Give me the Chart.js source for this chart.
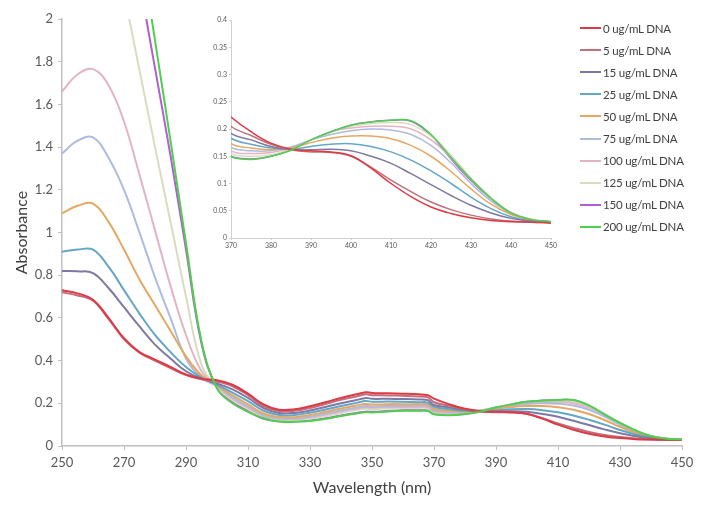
<!DOCTYPE html>
<html>
<head>
<meta charset="utf-8">
<script src="https://cdn.jsdelivr.net/npm/chart.js@4"></script>
<style>
  body { margin: 0; background: #fff; }
  #wrap { position: relative; width: 704px; height: 509px; }
  #mainChart { position: absolute; left: 0; top: 0; }
  #insetChart { position: absolute; left: 180px; top: 0; }
  #legend { position: absolute; left: 580px; top: 17px; font-family: Lato, sans-serif; font-size: 11.5px;
    letter-spacing: -0.2px; color: #404040; }
  .item { height: 22.1px; display: flex; align-items: center; white-space: nowrap; }
  .swatch { width: 21px; height: 2px; margin-right: 2px; }
</style>
</head>
<body>
<div id="wrap">
  <canvas id="mainChart" width="704" height="509"></canvas>
  <canvas id="insetChart" width="390" height="262"></canvas>
  <div id="legend"></div>
</div>
<script>
// wavelength grid (nm)
const wavelengths = [250,255,260,265,270,275,280,285,290,295,300,305,310,315,320,325,330,335,340,345,348,
  350,355,360,365,368,370,375,380,385,390,395,400,405,410,415,420,425,430,435,440,445,450];

const seriesNames = ["0 ug/mL DNA","5 ug/mL DNA","15 ug/mL DNA","25 ug/mL DNA","50 ug/mL DNA",
  "75 ug/mL DNA","100 ug/mL DNA","125 ug/mL DNA","150 ug/mL DNA","200 ug/mL DNA"];
const seriesColors = ["#dc3a44","#c0707c","#7e78a4","#63a7c6","#e5a862",
  "#aebbe0","#e4b4c2","#d8dcc0","#b45cd4","#4fcf4f"];

// absorbance readings
const dna0 = [.73,.715,.685,.60,.505,.44,.405,.37,.335,.315,.308,.287,.245,.195,.17,.172,.186,.205,.225,.242,.252,
  .248,.247,.245,.242,.238,.222,.195,.174,.163,.16,.158,.151,.128,.1,.076,.057,.045,.037,.032,.03,.029,.028];
const dna5 = [.72,.705,.68,.595,.50,.437,.40,.365,.332,.312,.302,.28,.238,.188,.164,.165,.178,.197,.216,.232,.242,
  .238,.237,.235,.232,.228,.205,.188,.172,.162,.158,.157,.15,.13,.106,.085,.066,.052,.042,.035,.031,.029,.028];
const dna15 = [.82,.818,.81,.74,.65,.56,.475,.41,.35,.315,.293,.265,.225,.178,.155,.155,.166,.183,.2,.215,.225,
  .221,.221,.22,.218,.215,.192,.18,.168,.162,.162,.163,.16,.15,.137,.118,.098,.078,.06,.046,.036,.031,.028];
const dna25 = [.91,.92,.92,.84,.73,.62,.52,.44,.37,.32,.287,.25,.21,.165,.145,.145,.156,.171,.187,.202,.211,
  .207,.208,.207,.205,.203,.183,.172,.165,.163,.168,.172,.173,.168,.158,.143,.123,.1,.075,.054,.039,.031,.028];
const dna50 = [1.09,1.125,1.135,1.05,.92,.78,.66,.54,.42,.33,.283,.237,.195,.152,.136,.135,.145,.16,.176,.19,.197,
  .194,.196,.196,.195,.194,.173,.165,.162,.165,.175,.183,.187,.187,.182,.17,.15,.122,.09,.062,.043,.032,.028];
const dna75 = [1.37,1.43,1.445,1.35,1.2,1.0,.79,.6,.41,.32,.28,.228,.185,.145,.13,.129,.137,.152,.167,.18,.187,
  .185,.187,.188,.188,.187,.166,.16,.16,.167,.18,.19,.197,.2,.198,.19,.17,.138,.1,.068,.045,.033,.028];
const dna100 = [1.66,1.74,1.765,1.69,1.52,1.27,1.01,.75,.52,.35,.278,.222,.18,.14,.126,.125,.133,.147,.162,.175,.181,
  .18,.182,.183,.183,.182,.16,.155,.157,.165,.18,.195,.202,.205,.205,.2,.18,.147,.107,.072,.047,.034,.028];
const dna125 = [2.6,2.65,2.6,2.45,2.12,1.76,1.4,1.05,.7,.38,.275,.215,.173,.135,.121,.12,.128,.14,.155,.168,.174,
  .173,.176,.178,.178,.177,.155,.15,.153,.163,.18,.195,.205,.21,.212,.208,.187,.152,.11,.074,.047,.034,.028];
const dna150 = [3.0,3.1,3.1,3.0,2.6,2.18,1.77,1.36,.92,.48,.272,.205,.165,.127,.116,.115,.12,.13,.143,.155,.161,
  .16,.164,.167,.167,.166,.15,.145,.15,.162,.18,.195,.207,.213,.216,.214,.188,.145,.105,.072,.046,.034,.03];
const dna200 = [3.2,3.3,3.3,3.2,2.85,2.37,1.9,1.43,.95,.49,.27,.2,.16,.13,.115,.113,.117,.127,.14,.152,.158,
  .157,.162,.165,.165,.164,.149,.144,.15,.161,.18,.195,.207,.213,.216,.215,.19,.148,.108,.073,.046,.034,.03];
const seriesValues = [dna0, dna5, dna15, dna25, dna50, dna75, dna100, dna125, dna150, dna200];

const mainXTicks = [250,270,290,310,330,350,370,390,410,430,450];
const mainYTicks = [0,0.2,0.4,0.6,0.8,1,1.2,1.4,1.6,1.8,2];
const insetXTicks = [370,380,390,400,410,420,430,440,450];
const insetYTicks = [0,0.05,0.1,0.15,0.2,0.25,0.3,0.35,0.4];

function makeDatasets(lineWidth) {
  return seriesValues.map((vals, i) => ({
    label: seriesNames[i],
    data: vals.map((v, j) => ({ x: wavelengths[j], y: v })),
    borderColor: seriesColors[i],
    backgroundColor: seriesColors[i],
    borderWidth: lineWidth,
    pointRadius: 0,
    tension: 0.4,
    // green on top, like the original export
    order: i === seriesValues.length - 1 ? -1 : i
  }));
}

const axisGrey = "#bfbfbf";
const tickGrey = "#595959";

new Chart(document.getElementById("mainChart"), {
  type: "line",
  data: { datasets: makeDatasets(2) },
  options: {
    responsive: false,
    animation: false,
    layout: { padding: { top: 19, right: 22, left: 0, bottom: 0 } },
    plugins: { legend: { display: false }, tooltip: { enabled: false } },
    scales: {
      x: {
        type: "linear", min: 250, max: 450,
        afterBuildTicks: s => { s.ticks = mainXTicks.map(v => ({ value: v })); },
        afterFit: s => { s.height = 63; },
        ticks: { color: tickGrey, font: { family: "Lato", size: 13 }, padding: 5, maxRotation: 0,
          callback: v => String(v) },
        grid: { drawOnChartArea: false, tickLength: 4, color: axisGrey },
        border: { color: axisGrey, width: 1.5 },
        title: { display: true, text: "Wavelength (nm)", color: "#404040",
          font: { family: "Lato", size: 16 }, padding: { top: 0, bottom: 12 } }
      },
      y: {
        min: 0, max: 2,
        afterBuildTicks: s => { s.ticks = mainYTicks.map(v => ({ value: v })); },
        afterFit: s => { s.width = 62; },
        ticks: { color: tickGrey, font: { family: "Lato", size: 13 }, padding: 5,
          callback: v => String(v) },
        grid: { drawOnChartArea: false, tickLength: 4, color: axisGrey },
        border: { color: axisGrey, width: 1.5 },
        title: { display: true, text: "Absorbance", color: "#404040",
          font: { family: "Lato", size: 16 }, padding: { top: 12, bottom: 0 } }
      }
    }
  }
});

new Chart(document.getElementById("insetChart"), {
  type: "line",
  data: { datasets: makeDatasets(1.5) },
  options: {
    responsive: false,
    animation: false,
    layout: { padding: { top: 20, right: 19, left: 0, bottom: 0 } },
    plugins: { legend: { display: false }, tooltip: { enabled: false } },
    scales: {
      x: {
        type: "linear", min: 370, max: 450,
        afterBuildTicks: s => { s.ticks = insetXTicks.map(v => ({ value: v })); },
        afterFit: s => { s.height = 24; },
        ticks: { color: tickGrey, font: { family: "Lato", size: 7 }, padding: 2, maxRotation: 0,
          callback: v => String(v) },
        grid: { drawOnChartArea: false, tickLength: 2, color: "#d0d0d0" },
        border: { color: "#d0d0d0", width: 1 }
      },
      y: {
        min: 0, max: 0.4,
        afterBuildTicks: s => { s.ticks = insetYTicks.map(v => ({ value: v })); },
        afterFit: s => { s.width = 51; },
        ticks: { color: tickGrey, font: { family: "Lato", size: 7 }, padding: 2,
          callback: v => String(v) },
        grid: { drawOnChartArea: false, tickLength: 2, color: "#d0d0d0" },
        border: { color: "#d0d0d0", width: 1 }
      }
    }
  }
});

// legend
const legend = document.getElementById("legend");
seriesNames.forEach((name, i) => {
  const row = document.createElement("div");
  row.className = "item";
  row.innerHTML = '<span class="swatch" style="background:' + seriesColors[i] + '"></span><span>' + name + '</span>';
  legend.appendChild(row);
});
</script>
</body>
</html>
